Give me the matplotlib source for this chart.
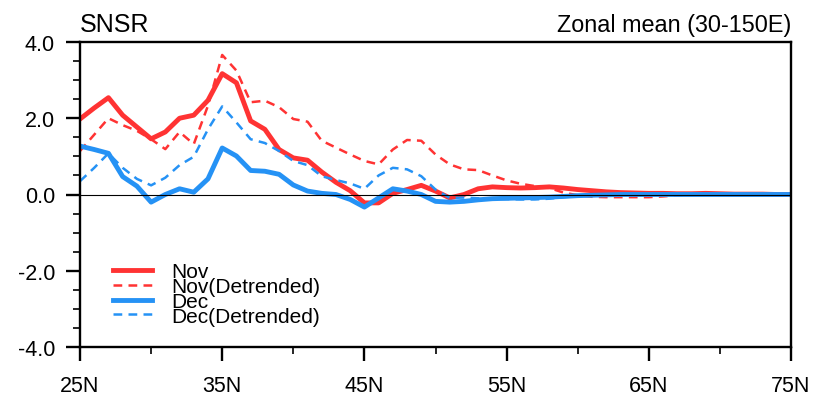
import matplotlib
matplotlib.use("Agg")
import matplotlib.pyplot as plt
from matplotlib.ticker import MultipleLocator, FixedLocator

plt.rcParams['font.family'] = ['Liberation Sans', 'DejaVu Sans']

lats = list(range(25, 76))

nov = [1.98, 2.27, 2.54, 2.08, 1.77, 1.46, 1.64, 2.00, 2.08, 2.47,
       3.17, 2.93, 1.93, 1.71, 1.18, 0.96, 0.90, 0.59, 0.32, 0.10,
       -0.22, -0.22, 0.03, 0.13, 0.24, 0.09, -0.09, 0.00, 0.15, 0.20,
       0.18, 0.17, 0.18, 0.20, 0.17, 0.13, 0.10, 0.07, 0.05, 0.04,
       0.03, 0.03, 0.02, 0.02, 0.03, 0.02, 0.01, 0.01, 0.01, 0.00,
       0.00]

nov_detrended = [1.14, 1.57, 2.00, 1.82, 1.67, 1.45, 1.19, 1.64, 1.32, 2.33,
                 3.66, 3.25, 2.42, 2.46, 2.29, 1.98, 1.91, 1.41, 1.23, 1.05,
                 0.88, 0.79, 1.18, 1.43, 1.41, 1.05, 0.79, 0.66, 0.64, 0.50,
                 0.37, 0.28, 0.22, 0.17, 0.05, -0.02, -0.06, -0.07, -0.07, -0.07,
                 -0.07, -0.05, -0.02, 0.00, 0.00, 0.00, 0.00, 0.00, 0.00, 0.00,
                 0.00]

dec = [1.27, 1.18, 1.08, 0.47, 0.22, -0.20, 0.00, 0.15, 0.06, 0.41,
       1.22, 1.01, 0.63, 0.61, 0.53, 0.25, 0.09, 0.03, 0.00, -0.13,
       -0.33, -0.09, 0.15, 0.09, 0.00, -0.18, -0.20, -0.18, -0.14, -0.11,
       -0.10, -0.09, -0.08, -0.07, -0.05, -0.03, -0.02, -0.01, 0.00, 0.00,
       0.00, 0.00, 0.00, 0.00, 0.00, 0.00, 0.00, 0.00, 0.00, 0.00,
       0.00]

dec_detrended = [0.35, 0.70, 1.08, 0.70, 0.41, 0.24, 0.44, 0.77, 0.99, 1.71,
                 2.31, 1.89, 1.45, 1.35, 1.14, 0.88, 0.77, 0.48, 0.38, 0.29,
                 0.15, 0.50, 0.70, 0.66, 0.48, 0.13, -0.09, -0.08, -0.10, -0.11,
                 -0.12, -0.13, -0.13, -0.11, -0.07, -0.04, -0.02, -0.01, 0.00, 0.00,
                 0.00, 0.00, 0.00, 0.00, 0.00, 0.00, 0.00, 0.00, 0.00, 0.00,
                 0.00]

x_ticks = [25, 35, 45, 55, 65, 75]
x_labels = ["25N", "35N", "45N", "55N", "65N", "75N"]
y_ticks = [-4, -2, 0, 2, 4]
y_labels = ["-4.0", "-2.0", "0.0", "2.0", "4.0"]

RED = '#ff3333'
BLUE = '#2592f5'

fig = plt.figure(figsize=(8.14, 4.06), dpi=100)
ax = fig.add_axes([80 / 814, 1 - 348 / 406, 711 / 814, 305 / 406])

ax.plot(lats, nov, color=RED, lw=3.5, label='Nov')
ax.plot(lats, nov_detrended, color=RED, lw=1.8, ls=(0, (3.5, 2.5)), label='Nov(Detrended)')
ax.plot(lats, dec, color=BLUE, lw=3.5, label='Dec')
ax.plot(lats, dec_detrended, color=BLUE, lw=1.8, ls=(0, (3.5, 2.5)), label='Dec(Detrended)')
ax.axhline(0, color='black', lw=0.8, zorder=5)

ax.set_xlim(25, 75)
ax.set_ylim(-4, 4)
ax.xaxis.set_major_locator(FixedLocator(x_ticks))
ax.set_xticklabels(x_labels)
ax.xaxis.set_minor_locator(MultipleLocator(5))
ax.yaxis.set_major_locator(FixedLocator(y_ticks))
ax.set_yticklabels(y_labels)
ax.yaxis.set_minor_locator(MultipleLocator(0.5))

for s in ax.spines.values():
    s.set_linewidth(1.7)
ax.tick_params(which='major', direction='out', length=10, width=1.7,
               labelsize=15.5, pad=8)
ax.tick_params(which='minor', direction='out', length=5, width=1.2)
ax.tick_params(axis='x', which='major', pad=10)

ax.annotate('SNSR', xy=(0, 1), xycoords='axes fraction', xytext=(0, 8),
            textcoords='offset points', ha='left', va='baseline', fontsize=18)
ax.annotate('Zonal mean (30-150E)', xy=(1, 1), xycoords='axes fraction',
            xytext=(0, 8), textcoords='offset points', ha='right',
            va='baseline', fontsize=16.8)

leg = ax.legend(loc='upper left', bbox_to_anchor=(0.046, 0.278), frameon=False,
                fontsize=15, handlelength=1.9, handletextpad=0.9,
                labelspacing=-0.2, borderpad=0, borderaxespad=0)

fig.savefig('out.png', dpi=100)
